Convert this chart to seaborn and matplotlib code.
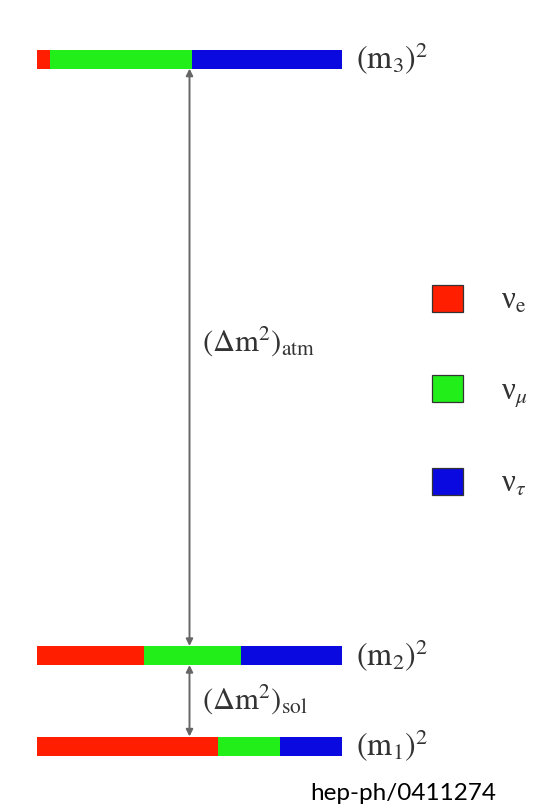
import matplotlib
matplotlib.use("Agg")
import matplotlib.pyplot as plt
import matplotlib.patches as mpatches
import numpy as np
import seaborn as sns

# ---- data ----
levels = ["m3", "m2", "m1"]
level_labels = [r"$(\mathrm{m}_3)^2$", r"$(\mathrm{m}_2)^2$", r"$(\mathrm{m}_1)^2$"]
level_values = [7.59, 1.0, 0.0]          # mass-squared levels (arbitrary units)
nu_e = [0.043, 0.352, 0.593]             # flavour content of each mass state
nu_mu = [0.466, 0.316, 0.203]
nu_tau = [0.491, 0.332, 0.204]
flavor_labels = [r"ν$_\mathrm{e}$", r"ν$_\mu$", r"ν$_\tau$"]
flavor_colors = ["#ff1e00", "#22ee1a", "#0a0ae0"]
split_labels = [r"$(\Delta\mathrm{m}^2)_{\mathrm{atm}}$", r"$(\Delta\mathrm{m}^2)_{\mathrm{sol}}$"]
source_text = "hep-ph/0411274"

sns.set_theme(style="white")
plt.rcParams["font.family"] = ["Liberation Serif", "DejaVu Serif"]
plt.rcParams["mathtext.fontset"] = "stix"

W, H = 551, 807
fig = plt.figure(figsize=(W / 100, H / 100), dpi=100)
ax = fig.add_axes([0, 0, 1, 1])
ax.set_axis_off()

# map: x fraction 0..1 -> pixel 37..342 ; level unit = 90 px, m1 at pixel 746
x0_px, xw_px = 37, 305
unit_px, y0_px = 90.5, 746
ax.set_xlim(-x0_px / xw_px, (W - x0_px) / xw_px)
ax.set_ylim((y0_px - H) / unit_px, y0_px / unit_px)

bar_h = 19 / unit_px
fractions = np.array([nu_e, nu_mu, nu_tau])
left = np.zeros(len(levels))
for frac, col in zip(fractions, flavor_colors):
    ax.barh(level_values, frac, left=left, height=bar_h, color=col,
            edgecolor="none", linewidth=0)
    left = left + frac

txt_col = "#333333"
# level labels
for lv, lab, tot in zip(level_values, level_labels, left):
    ax.text(tot + 0.045, lv, lab, fontsize=23, color=txt_col,
            va="center", ha="left")

# splitting arrows
arrow_x = 0.50
arrow_kw = dict(arrowstyle="<|-|>", color="#666666", lw=1.4,
                mutation_scale=10, shrinkA=0, shrinkB=0)
ax.annotate("", xy=(arrow_x, level_values[1] + bar_h / 2),
            xytext=(arrow_x, level_values[0] - bar_h / 2), arrowprops=arrow_kw)
ax.annotate("", xy=(arrow_x, level_values[2] + bar_h / 2),
            xytext=(arrow_x, level_values[1] - bar_h / 2), arrowprops=arrow_kw)

ax.text(arrow_x + 0.04, 4.47, split_labels[0], fontsize=22, color=txt_col,
        va="center", ha="left")
ax.text(arrow_x + 0.04, (level_values[1] + level_values[2]) / 2 + 0.02,
        split_labels[1], fontsize=22, color=txt_col, va="center", ha="left")

# legend
handles = [mpatches.Patch(facecolor=c, edgecolor="#333333", linewidth=0.9)
           for c in flavor_colors]
leg = fig.legend(handles, flavor_labels, loc="center left",
                 bbox_to_anchor=(432 / W, 1 - 392 / H), frameon=False,
                 fontsize=22, handlelength=1.0, handleheight=1.0,
                 handletextpad=1.25, labelspacing=1.92, borderpad=0,
                 borderaxespad=0)
for t in leg.get_texts():
    t.set_color(txt_col)

fig.text(310 / W, 1 - 794 / H, source_text, fontsize=17.5,
         family=["Lato", "Liberation Sans"], color="black", va="center", ha="left")

fig.savefig("out.png", dpi=100)
